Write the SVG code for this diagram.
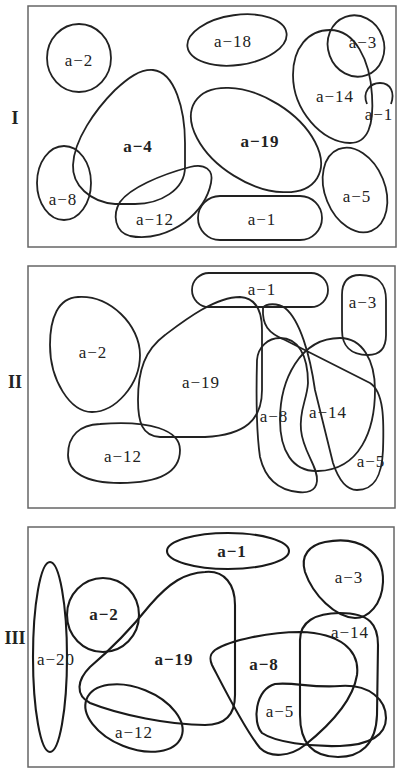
<svg xmlns="http://www.w3.org/2000/svg" width="398" height="769" viewBox="0 0 398 769">
<style>
.frame{fill:none;stroke:#666;stroke-width:1.5}
.s{fill:none;stroke:#222;stroke-width:1.8;stroke-linejoin:round}
.s3{fill:none;stroke:#1a1a1a;stroke-width:2.1;stroke-linejoin:round}
.t{font-family:"Liberation Serif","Noto Serif",serif;font-size:17px;letter-spacing:1px;fill:#222;text-anchor:middle}
.b{font-weight:bold}
.r{font-family:"Liberation Serif",serif;font-size:18px;font-weight:bold;fill:#222;text-anchor:middle}
</style>
<rect width="398" height="769" fill="#fff"/>

<g id="panel-I">
<rect class="frame" x="28" y="6" width="368" height="241"/>
<text class="r" x="15" y="124">I</text>
<g id="I-a2"><ellipse class="s" cx="79" cy="58" rx="32" ry="34"/><text class="t" x="79" y="66">a−2</text></g>
<g id="I-a4"><path class="s" d="M153,70 C175,72 185,110 185,143 L185,167 C185,190 160,204 135,204 L115,204 C90,202 72,185 73,165 C74,140 95,110 115,90 C128,78 140,69 153,70 Z"/><text class="t b" x="138" y="152">a−4</text></g>
<g id="I-a8"><ellipse class="s" cx="64" cy="183" rx="27" ry="37"/><text class="t" x="63" y="205">a−8</text></g>
<g id="I-a12"><path class="s" d="M190,167 C205,163 214,170 211,183 C208,198 198,212 185,222 C170,233 150,240 130,236 C115,232 112,215 120,202 C130,188 160,175 190,167 Z"/><text class="t" x="155" y="225">a−12</text></g>
<g id="I-a18"><ellipse class="s" cx="237" cy="40" rx="50" ry="25" transform="rotate(-8 237 40)"/><text class="t" x="233" y="47">a−18</text></g>
<g id="I-a19"><ellipse class="s" cx="256" cy="140" rx="72" ry="42" transform="rotate(32 256 140)"/><text class="t b" x="260" y="147">a−19</text></g>
<g id="I-a1"><rect class="s" x="198" y="196" width="124" height="44" rx="22"/><text class="t" x="262" y="225">a−1</text></g>
<g id="I-a5"><ellipse class="s" cx="355" cy="190" rx="30" ry="44" transform="rotate(-22 355 190)"/><text class="t" x="357" y="202">a−5</text></g>
<g id="I-a14"><path class="s" d="M330,30 C355,30 370,60 372,95 C374,125 368,143 350,143 C322,143 293,110 293,75 C293,48 308,30 330,30 Z"/><text class="t" x="335" y="102">a−14</text></g>
<g id="I-a3"><ellipse class="s" cx="356" cy="46" rx="28" ry="31" transform="rotate(-20 356 46)"/><text class="t" x="363" y="48">a−3</text></g>
<g id="I-a1b"><path class="s" d="M367,104 C362,92 370,83 380,83 C391,83 395,93 391,104"/><text class="t" x="379" y="120">a−1</text></g>
</g>

<g id="panel-II">
<rect class="frame" x="28" y="266" width="367" height="242"/>
<text class="r" x="15" y="388">II</text>
<g id="II-a2"><path class="s" d="M78,297 C110,295 140,325 140,355 C140,385 115,412 92,412 C70,412 50,380 50,345 C50,318 58,298 78,297 Z"/><text class="t" x="93" y="358">a−2</text></g>
<g id="II-a12"><path class="s" d="M100,424 C150,420 180,430 180,450 C180,472 160,483 120,483 C85,483 68,472 68,455 C68,435 80,425 100,424 Z"/><text class="t" x="123" y="462">a−12</text></g>
<g id="II-a19"><path class="s" d="M240,297 C255,298 262,310 262,330 L262,390 C262,420 245,435 205,437 L160,437 C142,436 138,422 138,400 C138,370 145,350 165,335 C185,320 215,297 240,297 Z"/><text class="t" x="201" y="388">a−19</text></g>
<g id="II-a1"><rect class="s" x="192" y="273" width="136" height="34" rx="17"/><text class="t" x="262" y="295">a−1</text></g>
<g id="II-a3"><path class="s" d="M360,275 C380,275 386,285 386,300 L386,335 C386,350 378,355 368,355 C350,355 342,345 342,330 L342,295 C342,282 348,275 360,275 Z"/><text class="t" x="363" y="308">a−3</text></g>
<g id="II-a8"><path class="s" d="M280,338 C298,338 308,355 308,383 C307,400 299,410 301,430 C303,452 318,466 317,481 C316,492 306,493 298,492 C278,490 265,478 260,457 C256,430 256,400 257,360 C258,347 268,338 280,338 Z"/><text class="t" x="274" y="422">a−8</text></g>
<g id="II-a14"><path class="s" d="M340,338 C362,338 375,360 375,390 C375,430 360,470 318,471 C292,472 280,450 280,420 C280,380 300,338 340,338 Z"/><text class="t" x="328" y="418">a−14</text></g>
<g id="II-a5"><path class="s" d="M263,308 C262,325 268,333 285,340 L370,383 C384,392 384,420 383,450 C382,475 375,490 357,490 C345,490 338,478 333,463 L315,390 C310,355 300,320 285,308 C278,303 266,303 263,308 Z"/><text class="t" x="371" y="467">a−5</text></g>
</g>

<g id="panel-III">
<rect class="frame" x="28" y="527" width="366" height="240"/>
<text class="r" x="15" y="644">III</text>
<g id="III-a20"><ellipse class="s3" cx="50" cy="657" rx="17" ry="95"/><text class="t" x="56" y="665">a−20</text></g>
<g id="III-a2"><ellipse class="s3" cx="103" cy="615" rx="36" ry="37"/><text class="t b" x="104" y="620">a−2</text></g>
<g id="III-a19"><path class="s3" d="M205,572 C225,570 235,585 235,605 L235,695 C235,715 225,725 205,725 C170,725 120,715 90,703 C75,695 77,680 90,667 C110,650 130,630 150,605 C170,582 185,573 205,572 Z"/><text class="t b" x="174" y="665">a−19</text></g>
<g id="III-a12"><ellipse class="s3" cx="134" cy="718" rx="51" ry="30" transform="rotate(22 134 718)"/><text class="t" x="134" y="738">a−12</text></g>
<g id="III-a1"><ellipse class="s3" cx="228" cy="551" rx="61" ry="18"/><text class="t b" x="232" y="557">a−1</text></g>
<g id="III-a3"><path class="s3" d="M325,542 C360,535 384,552 383,582 C382,605 368,618 355,618 C335,617 313,595 305,572 C300,555 310,545 325,542 Z"/><text class="t" x="349" y="583">a−3</text></g>
<g id="III-a14"><path class="s3" d="M340,613 C370,613 378,625 378,645 L377,715 C376,745 360,757 338,757 C315,757 300,745 300,715 L300,640 C300,622 315,613 340,613 Z"/><text class="t" x="350" y="638">a−14</text></g>
<g id="III-a8"><path class="s3" d="M215,650 C230,640 270,632 300,632 C340,633 360,650 357,675 C353,700 330,725 305,745 C290,757 270,758 260,748 C245,730 225,690 212,665 C209,658 210,654 215,650 Z"/><text class="t b" x="264" y="670">a−8</text></g>
<g id="III-a5"><path class="s3" d="M275,684 C295,682 310,688 340,686 C370,684 386,700 386,718 C386,735 370,745 340,746 C310,747 275,742 262,733 C252,722 255,690 275,684 Z"/><text class="t" x="280" y="717">a−5</text></g>
</g>
</svg>
